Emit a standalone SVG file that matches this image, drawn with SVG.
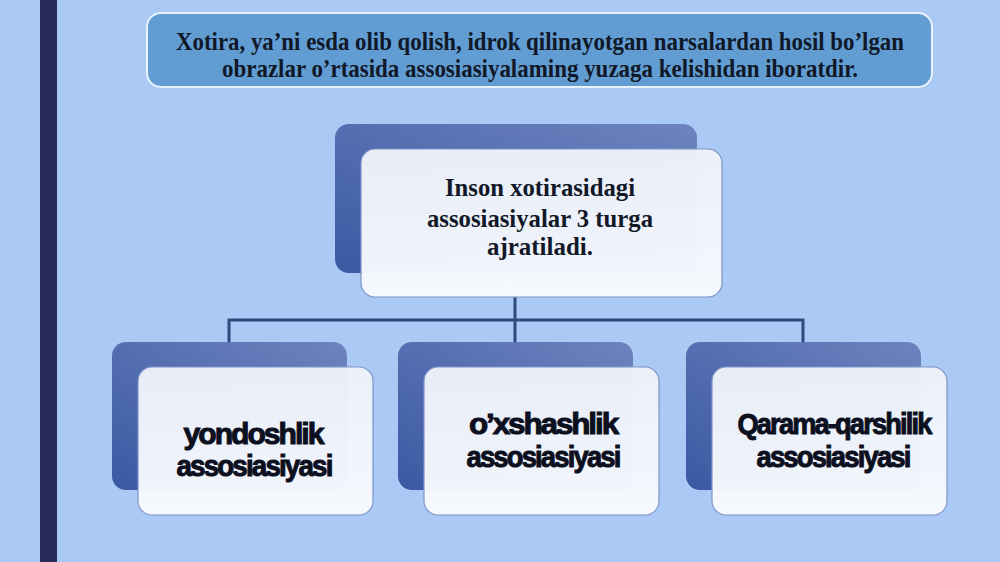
<svg xmlns="http://www.w3.org/2000/svg" width="1000" height="562" viewBox="0 0 1000 562">
  <defs>
    <linearGradient id="backGrad" x1="0" y1="1" x2="1" y2="0">
      <stop offset="0" stop-color="#3a59a3"/>
      <stop offset="1" stop-color="#6e83bf"/>
    </linearGradient>
    <linearGradient id="frontGrad" x1="0" y1="0" x2="0" y2="1">
      <stop offset="0" stop-color="#edf1f9"/>
      <stop offset="1" stop-color="#f8fafe"/>
    </linearGradient>
    <style>
      .back { fill: url(#backGrad); }
      .front { fill: url(#frontGrad); fill-opacity: 0.97; stroke: #7d93c8; stroke-width: 1.2; }
      .conn { fill: none; stroke: #2d4a7e; stroke-width: 3; }
      .serif { font-family: "Liberation Serif", "Times New Roman", serif; font-weight: bold; fill: #111827; text-anchor: middle; }
      .sans { font-family: "Liberation Sans", Arial, sans-serif; font-weight: bold; fill: #0b0f1e; text-anchor: middle; font-size: 30px; letter-spacing: -2px; stroke: #0b0f1e; stroke-width: 1; }
    </style>
  </defs>

  <rect x="0" y="0" width="1000" height="562" fill="#abc9f5"/>
  <rect x="40" y="0" width="17" height="562" fill="#262b57"/>

  <g id="title">
    <rect x="147" y="13" width="785" height="74" rx="14" fill="#619dd3" stroke="#eaf2fc" stroke-width="2"/>
    <text class="serif" x="540" y="50" font-size="25" fill="#0e1a3a" textLength="728" lengthAdjust="spacingAndGlyphs">Xotira, ya’ni esda olib qolish, idrok qilinayotgan narsalardan hosil bo’lgan</text>
    <text class="serif" x="540" y="77" font-size="25" fill="#0e1a3a" textLength="636" lengthAdjust="spacingAndGlyphs">obrazlar o’rtasida assosiasiyalaming yuzaga kelishidan iboratdir.</text>
  </g>

  <g id="connectors">
    <path class="conn" d="M515 297 V343"/>
    <path class="conn" d="M229 343 V320 H803 V343"/>
  </g>

  <g id="root">
    <rect class="back" x="335" y="124" width="362" height="149" rx="14"/>
    <rect class="front" x="361" y="149" width="361" height="148" rx="14"/>
    <text class="serif" x="540" y="196" font-size="25" textLength="190" lengthAdjust="spacingAndGlyphs">Inson xotirasidagi</text>
    <text class="serif" x="540" y="227" font-size="25" textLength="226" lengthAdjust="spacingAndGlyphs">assosiasiyalar 3 turga</text>
    <text class="serif" x="540" y="255" font-size="25" textLength="106" lengthAdjust="spacingAndGlyphs">ajratiladi.</text>
  </g>

  <g id="node1">
    <rect class="back" x="112" y="342" width="235" height="148" rx="14"/>
    <rect class="front" x="138" y="367" width="235" height="148" rx="14"/>
    <text class="sans" x="253" y="444" textLength="139" lengthAdjust="spacingAndGlyphs">yondoshlik</text>
    <text class="sans" x="254" y="476" textLength="155" lengthAdjust="spacingAndGlyphs">assosiasiyasi</text>
  </g>

  <g id="node2">
    <rect class="back" x="398" y="342" width="235" height="148" rx="14"/>
    <rect class="front" x="424" y="367" width="235" height="148" rx="14"/>
    <text class="sans" x="543" y="434" textLength="148" lengthAdjust="spacingAndGlyphs">o’xshashlik</text>
    <text class="sans" x="543" y="467" textLength="153" lengthAdjust="spacingAndGlyphs">assosiasiyasi</text>
  </g>

  <g id="node3">
    <rect class="back" x="686" y="342" width="235" height="148" rx="14"/>
    <rect class="front" x="712" y="367" width="235" height="148" rx="14"/>
    <text class="sans" x="834" y="434" textLength="193" lengthAdjust="spacingAndGlyphs">Qarama-qarshilik</text>
    <text class="sans" x="833" y="467" textLength="153" lengthAdjust="spacingAndGlyphs">assosiasiyasi</text>
  </g>
</svg>
